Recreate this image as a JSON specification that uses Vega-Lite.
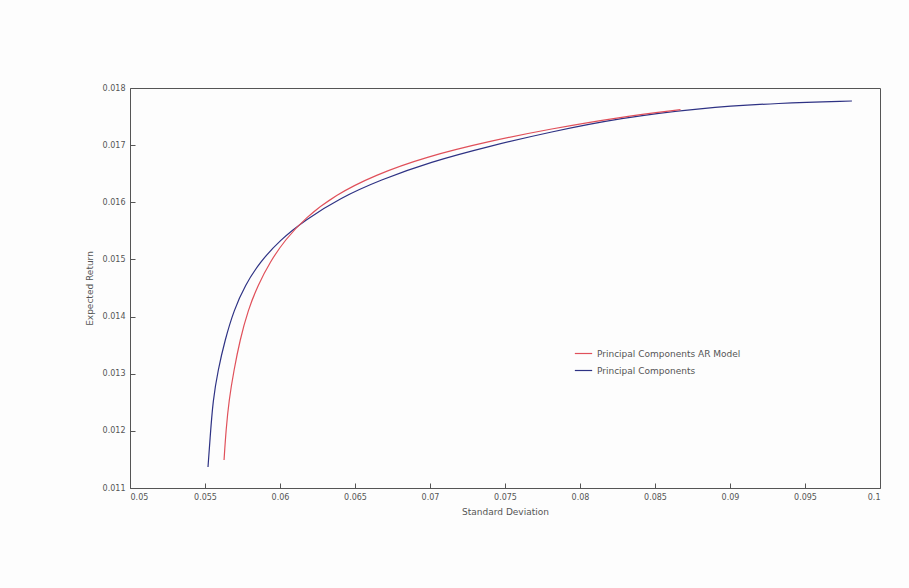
{
  "$schema": "https://vega.github.io/schema/vega-lite/v6.json",
  "width": 750,
  "height": 400,
  "autosize": "none",
  "padding": {"left": 130, "top": 88, "right": 29, "bottom": 100},
  "background": "#fdfdfd",
  "config": {
    "view": {"stroke": "#555", "strokeWidth": 1},
    "font": "DejaVu Sans"
  },
  "data": {
    "values": [
      {"sd": 0.0552, "ret": 0.011367, "series": "Principal Components", "o": 1},
      {"sd": 0.05533, "ret": 0.01184, "series": "Principal Components", "o": 2},
      {"sd": 0.05553, "ret": 0.01254, "series": "Principal Components", "o": 3},
      {"sd": 0.05587, "ret": 0.013065, "series": "Principal Components", "o": 4},
      {"sd": 0.05633, "ret": 0.01359, "series": "Principal Components", "o": 5},
      {"sd": 0.05693, "ret": 0.014115, "series": "Principal Components", "o": 6},
      {"sd": 0.05767, "ret": 0.01455, "series": "Principal Components", "o": 7},
      {"sd": 0.05867, "ret": 0.014955, "series": "Principal Components", "o": 8},
      {"sd": 0.06, "ret": 0.01534, "series": "Principal Components", "o": 9},
      {"sd": 0.06167, "ret": 0.01569, "series": "Principal Components", "o": 10},
      {"sd": 0.064, "ret": 0.016075, "series": "Principal Components", "o": 11},
      {"sd": 0.06667, "ret": 0.01639, "series": "Principal Components", "o": 12},
      {"sd": 0.07, "ret": 0.016705, "series": "Principal Components", "o": 13},
      {"sd": 0.074, "ret": 0.016985, "series": "Principal Components", "o": 14},
      {"sd": 0.078, "ret": 0.01723, "series": "Principal Components", "o": 15},
      {"sd": 0.08267, "ret": 0.017475, "series": "Principal Components", "o": 16},
      {"sd": 0.088, "ret": 0.01765, "series": "Principal Components", "o": 17},
      {"sd": 0.09333, "ret": 0.0177375, "series": "Principal Components", "o": 18},
      {"sd": 0.09813, "ret": 0.0177725, "series": "Principal Components", "o": 19},
      {"sd": 0.05627, "ret": 0.01149, "series": "Principal Components AR Model", "o": 1},
      {"sd": 0.0564, "ret": 0.012015, "series": "Principal Components AR Model", "o": 2},
      {"sd": 0.0566, "ret": 0.01254, "series": "Principal Components AR Model", "o": 3},
      {"sd": 0.05693, "ret": 0.013065, "series": "Principal Components AR Model", "o": 4},
      {"sd": 0.05733, "ret": 0.01359, "series": "Principal Components AR Model", "o": 5},
      {"sd": 0.05787, "ret": 0.014115, "series": "Principal Components AR Model", "o": 6},
      {"sd": 0.05853, "ret": 0.01455, "series": "Principal Components AR Model", "o": 7},
      {"sd": 0.05933, "ret": 0.014955, "series": "Principal Components AR Model", "o": 8},
      {"sd": 0.06033, "ret": 0.01534, "series": "Principal Components AR Model", "o": 9},
      {"sd": 0.06167, "ret": 0.015725, "series": "Principal Components AR Model", "o": 10},
      {"sd": 0.06367, "ret": 0.0161275, "series": "Principal Components AR Model", "o": 11},
      {"sd": 0.06633, "ret": 0.0164775, "series": "Principal Components AR Model", "o": 12},
      {"sd": 0.06967, "ret": 0.0167925, "series": "Principal Components AR Model", "o": 13},
      {"sd": 0.074, "ret": 0.0170725, "series": "Principal Components AR Model", "o": 14},
      {"sd": 0.078, "ret": 0.0172825, "series": "Principal Components AR Model", "o": 15},
      {"sd": 0.08267, "ret": 0.0174925, "series": "Principal Components AR Model", "o": 16},
      {"sd": 0.0867, "ret": 0.01762, "series": "Principal Components AR Model", "o": 17}
    ]
  },
  "mark": {"type": "line", "strokeWidth": 1.2, "interpolate": "basis"},
  "encoding": {
    "x": {
      "field": "sd", "type": "quantitative",
      "scale": {"domain": [0.05, 0.1], "nice": false},
      "axis": {"title": "Standard Deviation", "values": [0.05, 0.055, 0.06, 0.065, 0.07, 0.075, 0.08, 0.085, 0.09, 0.095, 0.1], "format": "~g", "grid": false, "domain": false, "tickSize": -5, "tickColor": "#555", "labelFontSize": 8, "labelColor": "#555", "titleFontSize": 9, "titleFontWeight": "normal", "titleColor": "#555", "labelPadding": 10, "titlePadding": 6}
    },
    "y": {
      "field": "ret", "type": "quantitative",
      "scale": {"domain": [0.011, 0.018], "nice": false, "zero": false},
      "axis": {"title": "Expected Return", "values": [0.011, 0.012, 0.013, 0.014, 0.015, 0.016, 0.017, 0.018], "format": ".3f", "grid": false, "domain": false, "tickSize": -5, "tickColor": "#555", "labelFontSize": 8, "labelColor": "#555", "titleFontSize": 9, "titleFontWeight": "normal", "titleColor": "#555", "labelPadding": 10, "titlePadding": 8}
    },
    "order": {"field": "o", "type": "quantitative"},
    "color": {
      "field": "series", "type": "nominal",
      "scale": {"domain": ["Principal Components AR Model", "Principal Components"], "range": ["#e0505a", "#2e3284"]},
      "legend": {"title": null, "orient": "none", "legendX": 440, "legendY": 252, "symbolType": "stroke", "symbolSize": 300, "symbolStrokeWidth": 1.2, "labelFontSize": 9, "labelColor": "#555", "rowPadding": 2, "padding": 4}
    }
  }
}
